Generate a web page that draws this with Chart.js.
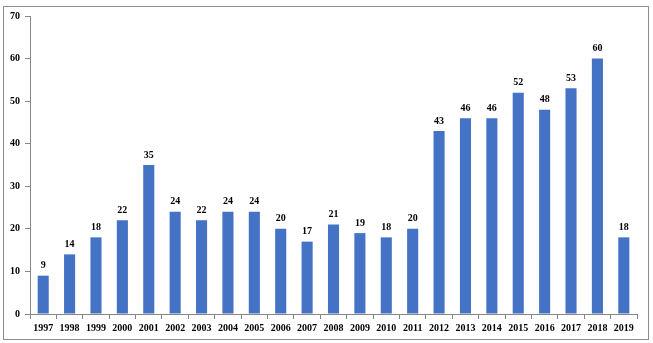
<!DOCTYPE html>
<html><head><meta charset="utf-8">
<script src="https://cdn.jsdelivr.net/npm/chart.js@4"></script>
<style>html,body{margin:0;padding:0;background:#fff}#wrap{width:653px;height:343px;position:relative}</style>
</head><body><div id="wrap"><canvas id="c" width="653" height="343"></canvas></div>
<script>
const years = ['1997','1998','1999','2000','2001','2002','2003','2004','2005','2006','2007','2008','2009','2010','2011','2012','2013','2014','2015','2016','2017','2018','2019'];
const counts = [9,14,18,22,35,24,22,24,24,20,17,21,19,18,20,43,46,46,52,48,53,60,18];
const yTicks = [0,10,20,30,40,50,60,70];

const FONT = "'Liberation Serif', serif";
const frame = {
  id:'frame',
  beforeDraw(chart){
    const ctx = chart.ctx; ctx.save();
    ctx.fillStyle='#fff'; ctx.fillRect(0,0,chart.width,chart.height);
    ctx.strokeStyle='#8c8c8c'; ctx.lineWidth=1;
    ctx.strokeRect(3.5,6.5,645,333);
    ctx.restore();
  }
};
const labels = {
  id:'labels',
  afterDatasetsDraw(chart){
    const ctx = chart.ctx; ctx.save();
    ctx.font = "bold 10px " + FONT; ctx.fillStyle='#000';
    ctx.textAlign='center'; ctx.textBaseline='bottom';
    chart.getDatasetMeta(0).data.forEach((bar,i)=>{
      ctx.fillText(String(counts[i]), bar.x, bar.y-5);
    });
    ctx.restore();
  }
};
new Chart(document.getElementById('c'),{
  type:'bar',
  data:{labels:years,datasets:[{data:counts,backgroundColor:'#4472C4',borderWidth:0,barPercentage:0.42,categoryPercentage:1}]},
  options:{
    responsive:false,animation:false,
    layout:{padding:{left:0,right:16,top:16,bottom:0}},
    plugins:{legend:{display:false},tooltip:{enabled:false}},
    scales:{
      x:{
        grid:{drawOnChartArea:false,drawTicks:true,tickLength:5,color:'#868686',offset:true},
        border:{color:'#868686'},
        ticks:{color:'#000',font:{family:FONT,size:10,weight:'bold'},padding:3,maxRotation:0,autoSkip:false},
        afterFit(s){s.height=29;}
      },
      y:{
        min:0,max:70,
        afterBuildTicks(s){s.ticks=yTicks.map(v=>({value:v}));},
        grid:{drawOnChartArea:false,drawTicks:true,tickLength:5,color:'#868686'},
        border:{color:'#868686'},
        ticks:{color:'#000',font:{family:FONT,size:10,weight:'bold'},padding:5},
        afterFit(s){s.width=30;}
      }
    }
  },
  plugins:[frame,labels]
});
</script></body></html>
